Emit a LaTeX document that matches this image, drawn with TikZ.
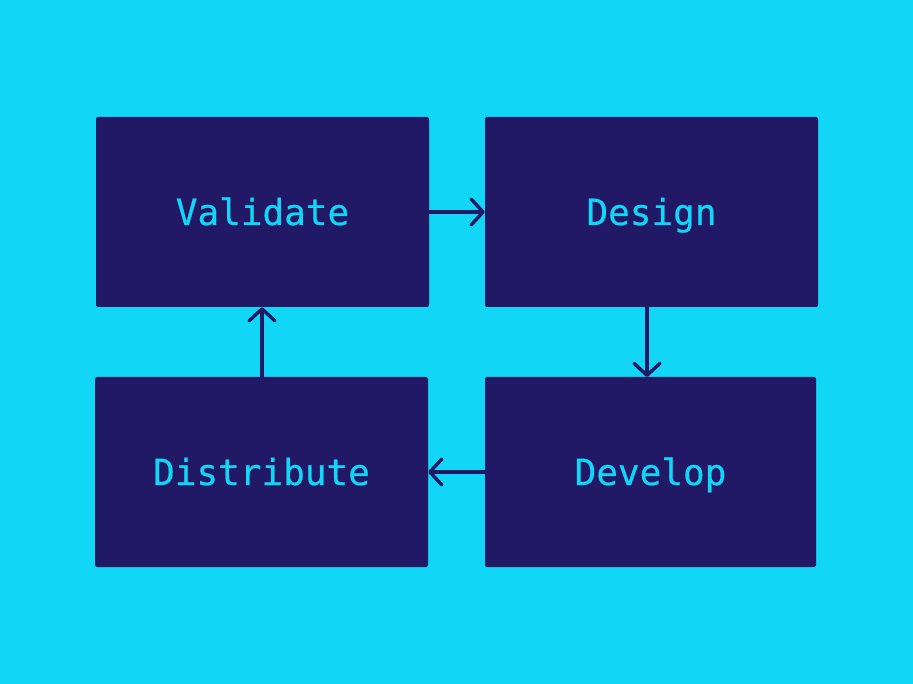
\documentclass[tikz,border=0pt]{standalone}
\usepackage{fontspec}
\newfontfamily\stagefont[FakeBold=0.6]{DejaVu Sans Mono}
\usetikzlibrary{arrows.meta}
\definecolor{bgcyan}{HTML}{12D6F6}
\definecolor{navy}{HTML}{221966}
\tikzset{
  stage/.style={fill=navy, rounded corners=2pt, minimum width=333pt, minimum height=190pt, inner sep=0pt,
    text height=26pt, text depth=0pt,
    text=bgcyan, font=\stagefont\fontsize{36}{40}\selectfont},
  flow/.style={draw=navy, line width=3.4pt, -{Straight Barb[length=12pt,width=26pt,line width=3.4pt,round]}}
}
\begin{document}
\begin{tikzpicture}[x=1pt,y=-1pt]
\fill[bgcyan] (0,0) rectangle (913,684);
\useasboundingbox (0,0) rectangle (913,684);
\node[stage] (val) at (262.5,212) {Validate};
\node[stage] (des) at (651.5,212) {Design};
\node[stage] (dis) at (261.5,472) {Distribute};
\node[stage, minimum width=331pt] (dev) at (650.5,472) {Develop};
\draw[flow] (val.east) -- (des.west);
\draw[flow] (647,307) coordinate (a1) -- (647,377) coordinate (a2);
\draw[flow] (dev.west) -- (dis.east);
\draw[flow] (dis.north -| 262,0) -- (val.south -| 262,0);
\end{tikzpicture}
\end{document}
